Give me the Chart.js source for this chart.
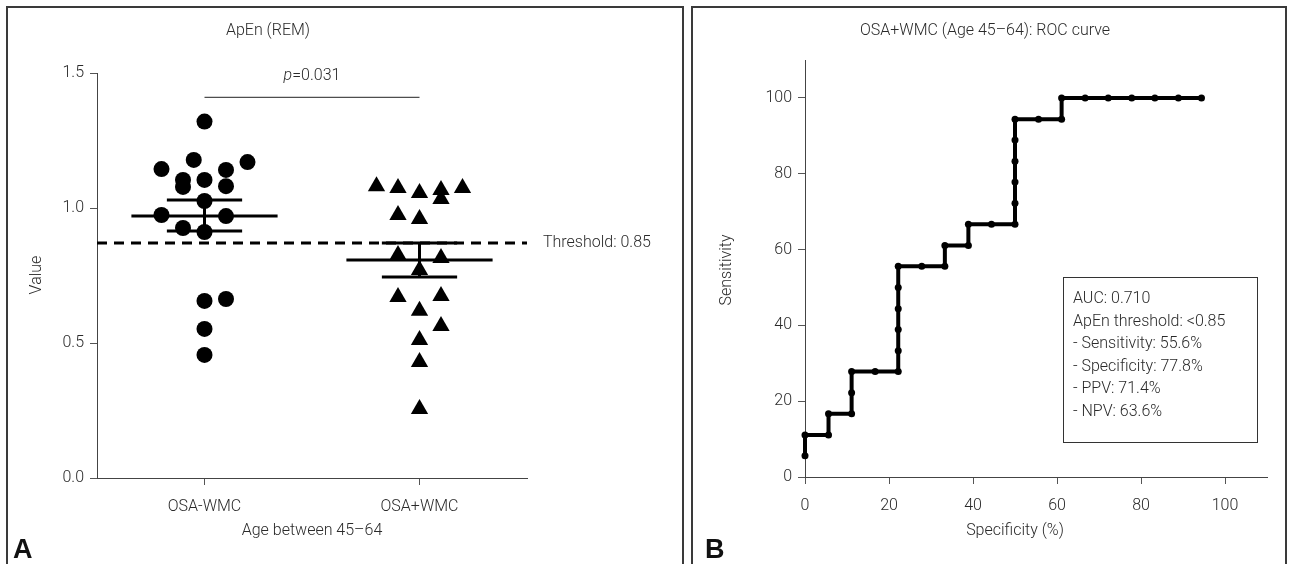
<!DOCTYPE html>
<html>
<head>
<meta charset="utf-8">
<script src="https://cdn.jsdelivr.net/npm/chart.js@4.4.1/dist/chart.umd.min.js"></script>
<style>
  html, body { margin: 0; padding: 0; background: #fff; overflow: hidden; }
  body { width: 1291px; height: 564px; position: relative; }
  canvas { position: absolute; top: 0; }
  #apenChart { left: 0; }
  #rocChart { left: 691px; }
  .frame { position: absolute; top: 6px; height: 620px; border: 2px solid #3a3a3a; box-sizing: border-box; pointer-events: none; }
  #frameA { left: 6px; width: 678px; }
  #frameB { left: 691px; width: 596px; }
</style>
</head>
<body>
<canvas id="apenChart" width="690" height="564"></canvas>
<canvas id="rocChart" width="600" height="564"></canvas>
<div class="frame" id="frameA"></div>
<div class="frame" id="frameB"></div>
<script>
/* Panel A : ApEn (REM), panel B : ROC curve */

const FONT = 'Roboto, "Noto Sans", sans-serif';
const INK = '#2a2a2a';

// Panel A data
const groups = ['OSA-WMC', 'OSA+WMC'];
const noWmcValues = [1.320, 1.178, 1.170, 1.144, 1.141, 1.104, 1.078, 1.104, 1.081, 1.026, 0.974, 0.970, 0.926, 0.911, 0.663, 0.656, 0.552, 0.456];
const noWmcJitter = [0, -0.05, 0.2, -0.2, 0.1, -0.1, -0.1, 0, 0.1, 0, -0.2, 0.1, -0.1, 0, 0.1, 0, 0, 0];
const wmcValues = [1.081, 1.074, 1.056, 1.067, 1.033, 1.074, 0.974, 0.959, 0.826, 0.815, 0.770, 0.670, 0.674, 0.619, 0.563, 0.511, 0.430, 0.256];
const wmcJitter = [-0.2, -0.1, 0, 0.1, 0.1, 0.2, -0.1, 0, -0.1, 0.1, 0, -0.1, 0.1, 0, 0.1, 0, 0, 0];
const groupMeans = [0.970, 0.807];
const semHigh = [1.030, 0.870];
const semLow = [0.915, 0.744];
const threshold = 0.87;
const pBracketY = 1.41;
const yTicksA = [0, 0.5, 1.0, 1.5];

// Panel B data (specificity %, sensitivity %)
const rocSpec = [0, 0, 5.6, 5.6, 11.1, 11.1, 11.1, 16.7, 22.2, 22.2, 22.2, 22.2, 22.2, 22.2, 27.8, 33.3, 33.3, 38.9, 38.9, 44.4, 50, 50, 50, 50, 50, 50, 55.6, 61.1, 61.1, 66.7, 72.2, 77.8, 83.3, 88.9, 94.4];
const rocSens = [5.6, 11.1, 11.1, 16.7, 16.7, 22.2, 27.8, 27.8, 27.8, 33.3, 38.9, 44.4, 50, 55.6, 55.6, 55.6, 61.1, 61.1, 66.7, 66.7, 66.7, 72.2, 77.8, 83.3, 88.9, 94.4, 94.4, 94.4, 100, 100, 100, 100, 100, 100, 100];
const rocTicks = [0, 20, 40, 60, 80, 100];
const statsLines = ['AUC: 0.710', 'ApEn threshold: <0.85', '- Sensitivity: 55.6%', '- Specificity: 77.8%', '- PPV: 71.4%', '- NPV: 63.6%'];

const MEAN_HALF = 0.34;
const SEM_HALF = 0.175;

function axisStyle() {
    return {
        grid: { drawOnChartArea: false, drawTicks: true, tickLength: 7, color: '#555', lineWidth: 1 },
        border: { color: '#444', width: 1 },
        ticks: { color: INK, font: { family: FONT, size: 16, weight: '300' } }
    };
}

function seg(x1, x2, y1, y2, width, dash) {
    return {
        type: 'line',
        data: [{ x: x1, y: y1 }, { x: x2, y: y2 }],
        borderColor: '#000',
        borderWidth: width,
        borderDash: dash || [],
        pointRadius: 0,
        borderCapStyle: 'butt'
    };
}

function panelText(draw) {
    return { id: 'panelText', afterDraw(chart) { const ctx = chart.ctx; ctx.save(); draw(chart, ctx); ctx.restore(); } };
}

// ---------- panel A ----------
const datasetsA = [];
datasetsA.push({
    data: noWmcValues.map((v, i) => ({ x: 1 + noWmcJitter[i], y: v })),
    pointStyle: 'circle', pointRadius: 8, backgroundColor: '#000', borderColor: '#000', borderWidth: 0
});
datasetsA.push({
    data: wmcValues.map((v, i) => ({ x: 2 + wmcJitter[i], y: v })),
    pointStyle: 'triangle', pointRadius: 10, backgroundColor: '#000', borderColor: '#000', borderWidth: 0
});
groups.forEach((g, i) => {
    const c = i + 1;
    datasetsA.push(seg(c - MEAN_HALF, c + MEAN_HALF, groupMeans[i], groupMeans[i], 3));
    datasetsA.push(seg(c - SEM_HALF, c + SEM_HALF, semHigh[i], semHigh[i], 3));
    datasetsA.push(seg(c - SEM_HALF, c + SEM_HALF, semLow[i], semLow[i], 3));
    datasetsA.push(seg(c, c, semLow[i], semHigh[i], 3));
});
datasetsA.push(seg(0.5, 2.5, threshold, threshold, 3, [10, 7]));
datasetsA.push(Object.assign(seg(1, 2, pBracketY, pBracketY, 1), { borderColor: '#222' }));

const xA = axisStyle();
const yA = axisStyle();

new Chart(document.getElementById('apenChart'), {
    type: 'scatter',
    data: { datasets: datasetsA },
    options: {
        responsive: false,
        animation: false,
        layout: { padding: { left: 40, right: 163, top: 73, bottom: 26 } },
        plugins: { legend: { display: false }, tooltip: { enabled: false } },
        scales: {
            x: Object.assign(xA, {
                type: 'linear', min: 0.5, max: 2.5,
                afterBuildTicks: s => { s.ticks = [{ value: 1 }, { value: 2 }]; },
                afterFit: s => { s.height = 60; },
                ticks: Object.assign(xA.ticks, { padding: 12, callback: v => groups[v - 1] })
            }),
            y: Object.assign(yA, {
                min: 0, max: 1.5,
                afterBuildTicks: s => { s.ticks = yTicksA.map(v => ({ value: v })); },
                afterFit: s => { s.width = 57; },
                ticks: Object.assign(yA.ticks, { padding: 6, callback: v => v.toFixed(1) })
            })
        }
    },
    plugins: [panelText((chart, ctx) => {
        const xs = chart.scales.x, ys = chart.scales.y, area = chart.chartArea;
        ctx.fillStyle = INK;
        ctx.font = '300 16px ' + FONT;
        ctx.textAlign = 'center';
        ctx.textBaseline = 'middle';
        ctx.fillText('ApEn (REM)', 268, 31);
        ctx.fillText('Age between 45\u201364', xs.getPixelForValue(1.5), 531);

        // p value above bracket, italic p
        const py = ys.getPixelForValue(pBracketY) - 21;
        ctx.font = 'italic 300 16px ' + FONT;
        const wP = ctx.measureText('p').width;
        ctx.font = '300 16px ' + FONT;
        const wRest = ctx.measureText('=0.031').width;
        let px = xs.getPixelForValue(1.5) - (wP + wRest) / 2;
        ctx.textAlign = 'left';
        ctx.font = 'italic 300 16px ' + FONT;
        ctx.fillText('p', px, py);
        ctx.font = '300 16px ' + FONT;
        ctx.fillText('=0.031', px + wP, py);

        ctx.fillText('Threshold: 0.85', area.right + 16, ys.getPixelForValue(threshold));

        ctx.save();
        ctx.translate(37, 275);
        ctx.rotate(-Math.PI / 2);
        ctx.textAlign = 'center';
        ctx.fillText('Value', 0, 0);
        ctx.restore();

        ctx.font = 'bold 27px "Liberation Sans", Arial, sans-serif';
        ctx.textAlign = 'left';
        ctx.textBaseline = 'alphabetic';
        ctx.fillStyle = '#111';
        ctx.fillText('A', 13, 558);
    })]
});

// ---------- panel B ----------
const xB = axisStyle();
const yB = axisStyle();

new Chart(document.getElementById('rocChart'), {
    type: 'line',
    data: {
        datasets: [{
            data: rocSpec.map((x, i) => ({ x: x, y: rocSens[i] })),
            borderColor: '#000',
            backgroundColor: '#000',
            borderWidth: 4,
            pointRadius: 3.5,
            pointBorderWidth: 0,
            tension: 0,
            clip: false,
            borderJoinStyle: 'miter'
        }]
    },
    options: {
        responsive: false,
        animation: false,
        layout: { padding: { left: 54, right: 24, top: 60, bottom: 27 } },
        plugins: { legend: { display: false }, tooltip: { enabled: false } },
        scales: {
            x: Object.assign(xB, {
                type: 'linear', min: 0, max: 110,
                afterBuildTicks: s => { s.ticks = rocTicks.map(v => ({ value: v })); },
                afterFit: s => { s.height = 60; },
                ticks: Object.assign(xB.ticks, { padding: 12 })
            }),
            y: Object.assign(yB, {
                type: 'linear', min: 0, max: 110,
                afterBuildTicks: s => { s.ticks = rocTicks.map(v => ({ value: v })); },
                afterFit: s => { s.width = 60; },
                ticks: Object.assign(yB.ticks, { padding: 6 })
            })
        }
    },
    plugins: [panelText((chart, ctx) => {
        const xs = chart.scales.x;
        ctx.fillStyle = INK;
        ctx.font = '300 16px ' + FONT;
        ctx.textAlign = 'center';
        ctx.textBaseline = 'middle';
        ctx.fillText('OSA+WMC (Age 45\u201364): ROC curve', 294, 31);
        ctx.fillText('Specificity (%)', xs.getPixelForValue(50), 531);

        ctx.save();
        ctx.translate(36, 270);
        ctx.rotate(-Math.PI / 2);
        ctx.fillText('Sensitivity', 0, 0);
        ctx.restore();

        // stats box
        const bx = 372, by = 277, bw = 194, bh = 165;
        ctx.fillStyle = '#fff';
        ctx.fillRect(bx, by, bw, bh);
        ctx.strokeStyle = '#333';
        ctx.lineWidth = 1;
        ctx.strokeRect(bx + 0.5, by + 0.5, bw, bh);
        ctx.fillStyle = INK;
        ctx.textAlign = 'left';
        statsLines.forEach((t, i) => ctx.fillText(t, bx + 10, by + 22 + i * 22.6));

        ctx.font = 'bold 27px "Liberation Sans", Arial, sans-serif';
        ctx.textBaseline = 'alphabetic';
        ctx.fillStyle = '#111';
        ctx.fillText('B', 14, 558);
    })]
});
</script>
</body>
</html>
